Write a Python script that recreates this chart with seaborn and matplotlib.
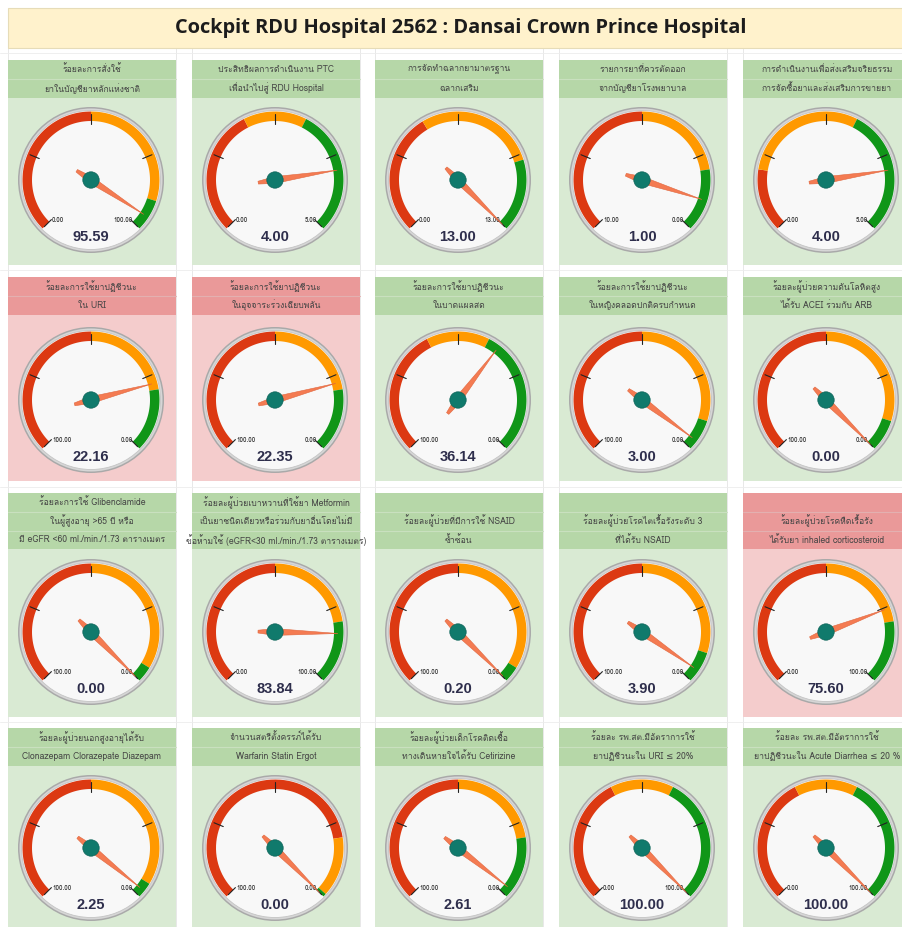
import numpy as np
import matplotlib
matplotlib.use("Agg")
import matplotlib.pyplot as plt
import seaborn as sns
from matplotlib import font_manager
from matplotlib.ft2font import FT2Font
from matplotlib.patches import Polygon, Circle, Rectangle

# ---- data ----
title = "Cockpit RDU Hospital 2562 : Dansai Crown Prince Hospital"

headers = [
    ["ร้อยละการสั่งใช้", "ยาในบัญชียาหลักแห่งชาติ"],
    ["ประสิทธิผลการดำเนินงาน PTC", "เพื่อนำไปสู่ RDU Hospital"],
    ["การจัดทำฉลากยามาตรฐาน", "ฉลากเสริม"],
    ["รายการยาที่ควรตัดออก", "จากบัญชียาโรงพยาบาล"],
    ["การดำเนินงานเพื่อส่งเสริมจริยธรรม", "การจัดซื้อยาและส่งเสริมการขายยา"],
    ["ร้อยละการใช้ยาปฏิชีวนะ", "ใน URI"],
    ["ร้อยละการใช้ยาปฏิชีวนะ", "ในอุจจาระร่วงเฉียบพลัน"],
    ["ร้อยละการใช้ยาปฏิชีวนะ", "ในบาดแผลสด"],
    ["ร้อยละการใช้ยาปฏิชีวนะ", "ในหญิงคลอดปกติครบกำหนด"],
    ["ร้อยละผู้ป่วยความดันโลหิตสูง", "ได้รับ ACEI ร่วมกับ ARB"],
    ["ร้อยละการใช้ Glibenclamide", "ในผู้สูงอายุ >65 ปี หรือ",
     "มี eGFR <60 ml./min./1.73 ตารางเมตร"],
    ["ร้อยละผู้ป่วยเบาหวานที่ใช้ยา Metformin",
     "เป็นยาชนิดเดียวหรือร่วมกับยาอื่นโดยไม่มี",
     "ข้อห้ามใช้ (eGFR<30 ml./min./1.73 ตารางเมตร)"],
    ["", "ร้อยละผู้ป่วยที่มีการใช้ NSAID", "ซ้ำซ้อน"],
    ["", "ร้อยละผู้ป่วยโรคไตเรื้อรังระดับ 3", "ที่ได้รับ NSAID"],
    ["", "ร้อยละผู้ป่วยโรคหืดเรื้อรัง", "ได้รับยา inhaled corticosteroid"],
    ["ร้อยละผู้ป่วยนอกสูงอายุได้รับ", "Clonazepam Clorazepate Diazepam"],
    ["จำนวนสตรีตั้งครรภ์ได้รับ", "Warfarin Statin Ergot"],
    ["ร้อยละผู้ป่วยเด็กโรคติดเชื้อ", "ทางเดินหายใจได้รับ Cetirizine"],
    ["ร้อยละ รพ.สต.มีอัตราการใช้", "ยาปฏิชีวนะใน URI ≤ 20%"],
    ["ร้อยละ รพ.สต.มีอัตราการใช้", "ยาปฏิชีวนะใน Acute Diarrhea ≤ 20 %"],
]

values = [95.59, 4.00, 13.00, 1.00, 4.00,
          22.16, 22.35, 36.14, 3.00, 0.00,
          0.00, 83.84, 0.20, 3.90, 75.60,
          2.25, 0.00, 2.61, 100.00, 100.00]
scale_min = [0, 0, 0, 10, 0,
             100, 100, 100, 100, 100,
             100, 0, 100, 100, 0,
             100, 100, 100, 0, 0]
scale_max = [100, 5, 13, 0, 5,
             0, 0, 0, 0, 0,
             0, 100, 0, 0, 100,
             0, 0, 0, 100, 100]
red_zone = [(0, 50), (0, 2), (0, 5), (10, 5), (0, 1),
            (100, 50), (100, 50), (100, 60), (100, 50), (100, 50),
            (100, 50), (0, 50), (100, 50), (100, 50), (0, 50),
            (100, 50), (100, 20), (100, 50), (0, 40), (0, 40)]
yellow_zone = [(50, 90), (2, 3), (5, 10), (5, 2), (1, 3),
               (50, 20), (50, 20), (60, 40), (50, 10), (50, 10),
               (50, 5), (50, 80), (50, 5), (50, 10), (50, 80),
               (50, 5), (20, 1), (50, 20), (40, 60), (40, 60)]
green_zone = [(90, 100), (3, 5), (10, 13), (2, 0), (3, 5),
              (20, 0), (20, 0), (40, 0), (10, 0), (10, 0),
              (5, 0), (80, 100), (5, 0), (10, 0), (80, 100),
              (5, 0), (1, 0), (20, 0), (60, 100), (60, 100)]
alert = [False, False, False, False, False,
         True, True, False, False, False,
         False, False, False, False, True,
         False, False, False, False, False]

# ---- style ----
sns.set_theme(style="white")


def thai_family():
    # first installed font that actually has Thai glyphs
    for f in font_manager.fontManager.ttflist:
        try:
            if FT2Font(f.fname).get_char_index(0x0E01):
                return f.name
        except Exception:
            pass
    return None


thai = thai_family()
fams = ([thai] if thai else []) + ["DejaVu Sans"]
plt.rcParams["font.family"] = fams

W, H = 903, 927
fig = plt.figure(figsize=(W / 100, H / 100), dpi=100)
ax = fig.add_axes([0, 0, 1, 1])
ax.set_xlim(0, W)
ax.set_ylim(H, 0)
ax.axis("off")

# layout
col_x = [8, 192, 375, 559, 743]
panel_w = 168
row_top = [60, 277, 493, 728]
n_lines = [2, 2, 3, 2]
line_h = 18.8
row_bottom = [265, 481, 717, 940]
gauge_cy = [180, 400, 632, 848]

R_OUT = 73
BAND_IN, BAND_OUT = 59, 68.5
RED, YELLOW, GREEN = "#DC3912", "#FF9900", "#109618"

# title bar
ax.add_patch(Rectangle((8, 8), W - 8, 40, fc="#FFF2CC", ec="#e6dcb8", lw=0.8))
ax.text(461, 28, title, ha="center", va="center", fontsize=14.4,
        fontweight="bold", color="#1c1c1c", family=["Open Sans", "DejaVu Sans"])

# faint sheet grid in the white strips
for x in col_x:
    ax.plot([x, x], [48, H], color="#e4e4e4", lw=0.6, zorder=0)
    ax.plot([x + panel_w, x + panel_w], [48, H], color="#e4e4e4", lw=0.6, zorder=0)
for y in [53, 270, 487, 722]:
    ax.plot([0, W], [y, y], color="#ececec", lw=0.6, zorder=0)


def angle(i, v):
    f = (v - scale_min[i]) / (scale_max[i] - scale_min[i])
    f = min(max(f, 0), 1)
    return np.radians(225 - 270 * f)


def arc_band(cx, cy, r0, r1, a0, a1, color):
    t = np.linspace(a0, a1, 60)
    xs = np.concatenate([cx + r1 * np.cos(t), cx + r0 * np.cos(t[::-1])])
    ys = np.concatenate([cy - r1 * np.sin(t), cy - r0 * np.sin(t[::-1])])
    ax.add_patch(Polygon(np.column_stack([xs, ys]), fc=color, ec="none", zorder=3))


def fmt(v):
    return f"{v:.2f}"


for i in range(len(values)):
    row, col = divmod(i, 5)
    x0 = col_x[col]
    y0 = row_top[row]
    hb = y0 + n_lines[row] * line_h
    head_c = "#EA9999" if alert[i] else "#B6D7A8"
    body_c = "#F4CCCC" if alert[i] else "#D9EAD3"
    sep_c = "#e3b0b0" if alert[i] else "#c9e0bf"

    ax.add_patch(Rectangle((x0, y0), panel_w, hb - y0, fc=head_c, ec="none", zorder=1))
    ax.add_patch(Rectangle((x0, hb), panel_w, row_bottom[row] - hb, fc=body_c,
                           ec="none", zorder=1))
    for k in range(1, n_lines[row]):
        ax.plot([x0, x0 + panel_w], [y0 + k * line_h] * 2, color=sep_c, lw=0.8, zorder=2)

    for k, line in enumerate(headers[i]):
        if line:
            ax.text(x0 + panel_w / 2, y0 + (k + 0.5) * line_h, line, ha="center",
                    va="center", fontsize=6.2, color="#444444", zorder=4)

    cx = x0 + 83
    cy = gauge_cy[row]
    # dial
    ax.add_patch(Circle((cx, cy), R_OUT, fc="#a9a9a9", ec="none", zorder=2))
    ax.add_patch(Circle((cx, cy), R_OUT - 1.5, fc="#d6d6d6", ec="none", zorder=2))
    ax.add_patch(Circle((cx, cy), R_OUT - 3.5, fc="#f8f8f8", ec="#c4c4c4", lw=0.6, zorder=2))

    for zone, c in [(red_zone[i], RED), (yellow_zone[i], YELLOW), (green_zone[i], GREEN)]:
        arc_band(cx, cy, BAND_IN, BAND_OUT, angle(i, zone[0]), angle(i, zone[1]), c)

    # major ticks
    for f in np.linspace(0, 1, 5):
        v = scale_min[i] + f * (scale_max[i] - scale_min[i])
        a = angle(i, v)
        ax.plot([cx + 56 * np.cos(a), cx + 66 * np.cos(a)],
                [cy - 56 * np.sin(a), cy - 66 * np.sin(a)],
                color="#222222", lw=0.8, zorder=4)

    # min / max labels
    ax.text(cx - 39, cy + 40, fmt(scale_min[i]), ha="left", va="center",
            fontsize=4.6, fontweight="bold", color="#333333", zorder=4)
    ax.text(cx + 42, cy + 40, fmt(scale_max[i]), ha="right", va="center",
            fontsize=4.6, fontweight="bold", color="#333333", zorder=4)

    # value
    ax.text(cx, cy + 57, fmt(values[i]), ha="center", va="center", fontsize=10.5,
            fontweight="bold", color="#2e2e4c", zorder=4,
            family=["Liberation Sans", "DejaVu Sans"])

    # needle
    a = angle(i, values[i])
    u = np.array([np.cos(a), -np.sin(a)])
    n = np.array([np.sin(a), np.cos(a)])
    c0 = np.array([cx, cy])
    pts = [c0 + 63 * u, c0 + 3.4 * n, c0 - 17 * u + 1.4 * n,
           c0 - 17 * u - 1.4 * n, c0 - 3.4 * n]
    ax.add_patch(Polygon(pts, fc="#F47B52", ec="#e0663d", lw=0.4, zorder=5))
    ax.add_patch(Circle((cx, cy), 8.2, fc="#107a6c", ec="#0c6358", lw=0.5, zorder=6))

fig.savefig("out.png", dpi=100)
